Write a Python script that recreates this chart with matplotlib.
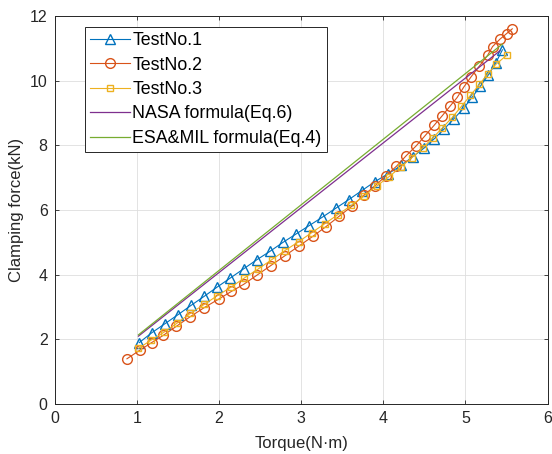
import numpy as np
import matplotlib.pyplot as plt

# Datos (torque en N·m, fuerza en kN)
torque_1 = [1.03, 1.18, 1.34, 1.50, 1.66, 1.82, 1.98, 2.14, 2.30, 2.46, 2.62,
            2.78, 2.94, 3.10, 3.26, 3.42, 3.58, 3.74, 3.90, 4.06, 4.22, 4.36,
            4.50, 4.62, 4.74, 4.86, 4.98, 5.08, 5.18, 5.28, 5.37, 5.45]
fuerza_1 = [1.90, 2.20, 2.48, 2.76, 3.05, 3.33, 3.62, 3.90, 4.18, 4.46, 4.72,
            5.00, 5.26, 5.52, 5.78, 6.05, 6.32, 6.60, 6.88, 7.12, 7.38, 7.65,
            7.92, 8.20, 8.50, 8.82, 9.15, 9.48, 9.82, 10.18, 10.55, 10.95]

torque_2 = [0.88, 1.04, 1.18, 1.32, 1.48, 1.65, 1.82, 2.00, 2.15, 2.30, 2.46,
            2.63, 2.80, 2.97, 3.14, 3.30, 3.46, 3.62, 3.76, 3.90, 4.03, 4.16,
            4.28, 4.40, 4.51, 4.62, 4.72, 4.81, 4.90, 4.98, 5.07, 5.17, 5.27,
            5.33, 5.42, 5.50, 5.57]
fuerza_2 = [1.40, 1.67, 1.90, 2.12, 2.40, 2.70, 2.98, 3.25, 3.48, 3.70, 3.98,
            4.28, 4.58, 4.88, 5.18, 5.48, 5.80, 6.12, 6.45, 6.75, 7.05, 7.35,
            7.68, 7.98, 8.30, 8.62, 8.92, 9.20, 9.48, 9.80, 10.12, 10.45, 10.78,
            11.05, 11.28, 11.45, 11.60]

torque_3 = [1.02, 1.17, 1.33, 1.49, 1.65, 1.82, 1.98, 2.15, 2.31, 2.48, 2.64,
            2.80, 2.97, 3.13, 3.29, 3.45, 3.61, 3.77, 3.92, 4.07, 4.21, 4.35,
            4.48, 4.60, 4.72, 4.84, 4.95, 5.06, 5.17, 5.27, 5.37, 5.50]
fuerza_3 = [1.72, 1.97, 2.22, 2.50, 2.80, 3.08, 3.35, 3.62, 3.90, 4.18, 4.46,
            4.74, 5.02, 5.30, 5.58, 5.86, 6.14, 6.44, 6.74, 7.03, 7.32, 7.62,
            7.92, 8.22, 8.54, 8.86, 9.20, 9.54, 9.88, 10.20, 10.50, 10.78]

# Formulas (rectas)
torque_nasa = [1.02, 5.42]
fuerza_nasa = [2.10, 10.92]
torque_esa = [1.02, 5.45]
fuerza_esa = [2.14, 11.13]

plt.rcParams["font.family"] = ["Liberation Sans", "DejaVu Sans"]
plt.rcParams["font.size"] = 12

fig = plt.figure(figsize=(5.52, 4.54), dpi=100)
ax = fig.add_axes([0.099, 0.110, 0.893, 0.855])

ax.plot(torque_1, fuerza_1, color="#0072BD", marker="^", markersize=7,
        markerfacecolor="none", linewidth=0.8, label="TestNo.1")
ax.plot(torque_2, fuerza_2, color="#D95319", marker="o", markersize=7,
        markerfacecolor="none", linewidth=0.8, label="TestNo.2")
ax.plot(torque_3, fuerza_3, color="#EDB120", marker="s", markersize=5,
        markerfacecolor="none", linewidth=0.8, label="TestNo.3")
ax.plot(torque_nasa, fuerza_nasa, color="#7E2F8E", linewidth=0.9,
        label="NASA formula(Eq.6)")
ax.plot(torque_esa, fuerza_esa, color="#77AC30", linewidth=0.9,
        label="ESA&MIL formula(Eq.4)")

ax.set_xlim(0, 6)
ax.set_ylim(0, 12)
ax.set_xticks(range(0, 7))
ax.set_yticks(range(0, 13, 2))
ax.set_xlabel("Torque(N·m)", color="#262626", labelpad=7)
ax.set_ylabel("Clamping force(kN)", color="#262626", labelpad=4)
ax.grid(True, color="#DEDEDE", linewidth=0.6)
ax.set_axisbelow(True)
ax.tick_params(direction="in", top=True, right=True, colors="#262626",
               length=3, width=0.6, labelsize=11.5, pad=5)
for spine in ax.spines.values():
    spine.set_color("#262626")
    spine.set_linewidth(0.7)

leg = ax.legend(loc="upper left", bbox_to_anchor=(0.0617, 0.972),
                borderaxespad=0, fancybox=False, edgecolor="#262626",
                framealpha=1, handlelength=2.2, borderpad=0.3,
                labelspacing=0.42, handletextpad=0.15, fontsize=12.8)
leg.get_frame().set_linewidth(0.7)

fig.savefig("out.png", dpi=100)
